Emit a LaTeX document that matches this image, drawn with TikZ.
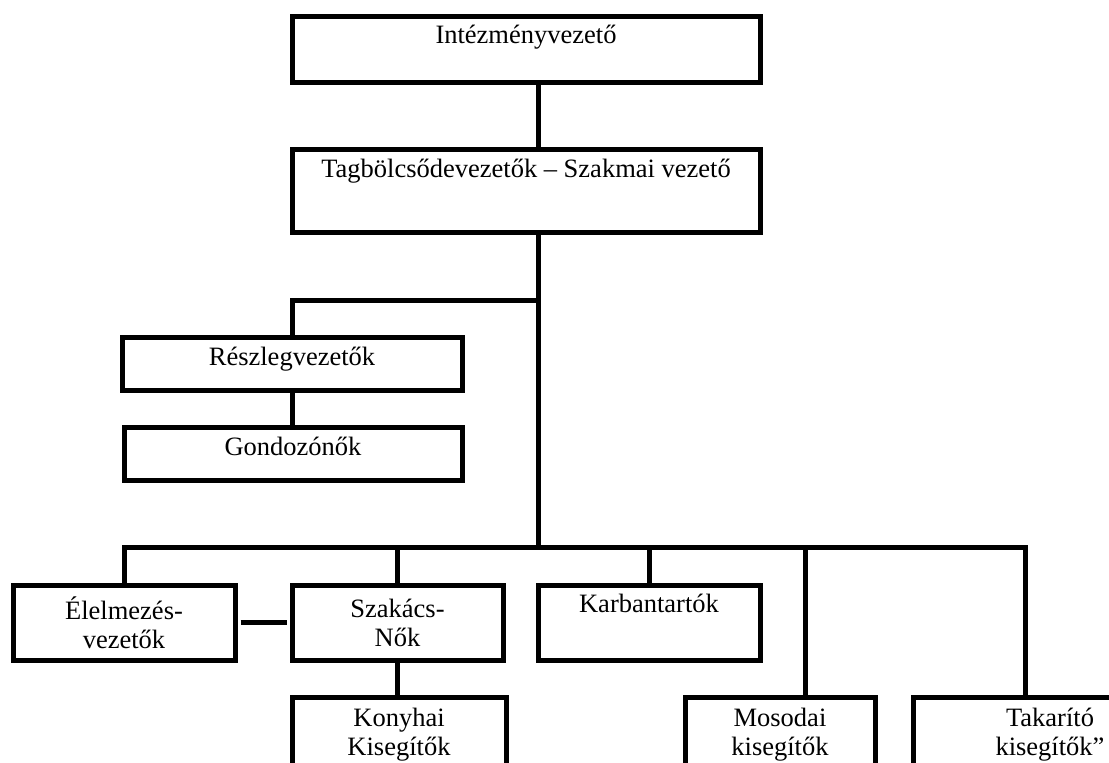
\documentclass[tikz,border=0pt]{standalone}
\usepackage{fontspec}
\setmainfont{Liberation Serif}
\tikzset{unit/.style={draw, line width=5pt, inner sep=0pt, align=center, font=\fontsize{26.5}{29}\selectfont},
  link/.style={line width=5pt}}

\begin{document}
\begin{tikzpicture}[x=1pt,y=-1pt]
  \useasboundingbox (0,0) rectangle (1109,763);

      \node[unit, minimum width=468, text height=27, text depth=39] (inst) at (526,49) {Intézményvezető};
      \node[unit, minimum width=468, text height=28, text depth=55] (tag) at (526,190.5) {Tagbölcsődevezetők – Szakmai vezető};
      \node[unit, minimum width=340, text height=28, text depth=25] (reszleg) at (292,363.5) {Részlegvezetők};
      \node[unit, minimum width=338, text height=28, text depth=25] (gond) at (293,453.5) {Gondozónők};

      \node[unit, minimum width=222, minimum height=75] (elel) at (124,622.5) {Élelmezés-\\vezetők};
      \node[unit, minimum width=211, minimum height=75] (szak) at (397.5,622.5) {Szakács-\\Nők};
      \node[unit, minimum width=222, text height=27, text depth=48] (karb) at (649,622.5) {Karbantartók};
      \node[unit, minimum width=214, minimum height=75] (kony) at (399,734.5) {Konyhai\\Kisegítők};
      \node[unit, minimum width=190, minimum height=75] (mos) at (780,734.5) {Mosodai\\kisegítők};
      \node[unit, minimum width=274, minimum height=75] (tak) at (1050,734.5) {Takarító\\kisegítők”};

      \coordinate (j1) at (538,300);
      \coordinate (j2) at (538,547);
      \coordinate (mo) at (805,547);
      \coordinate (ta) at (1025,547);

       \draw[link] (inst.south -| j1) -- (tag.north -| j1);
       \draw[link] (tag.south -| j1) -- (j2);
       \draw[link] (j1) -| (reszleg.north);
       \draw[link] (reszleg.south) -- (reszleg.south |- gond.north);

       \draw[link] (elel.north) |- (ta) -- (ta |- tak.north);
       \draw[link] (szak.north) -- (szak.north |- j2);
       \draw[link] (karb.north) -- (karb.north |- j2);
       \draw[link] (mo) -- (mo |- mos.north);
       \draw[link, shorten <=3pt, shorten >=3pt] (elel.east) -- (szak.west);
       \draw[link] (szak.south) -- (szak.south |- kony.north);

\end{tikzpicture}
\end{document}
